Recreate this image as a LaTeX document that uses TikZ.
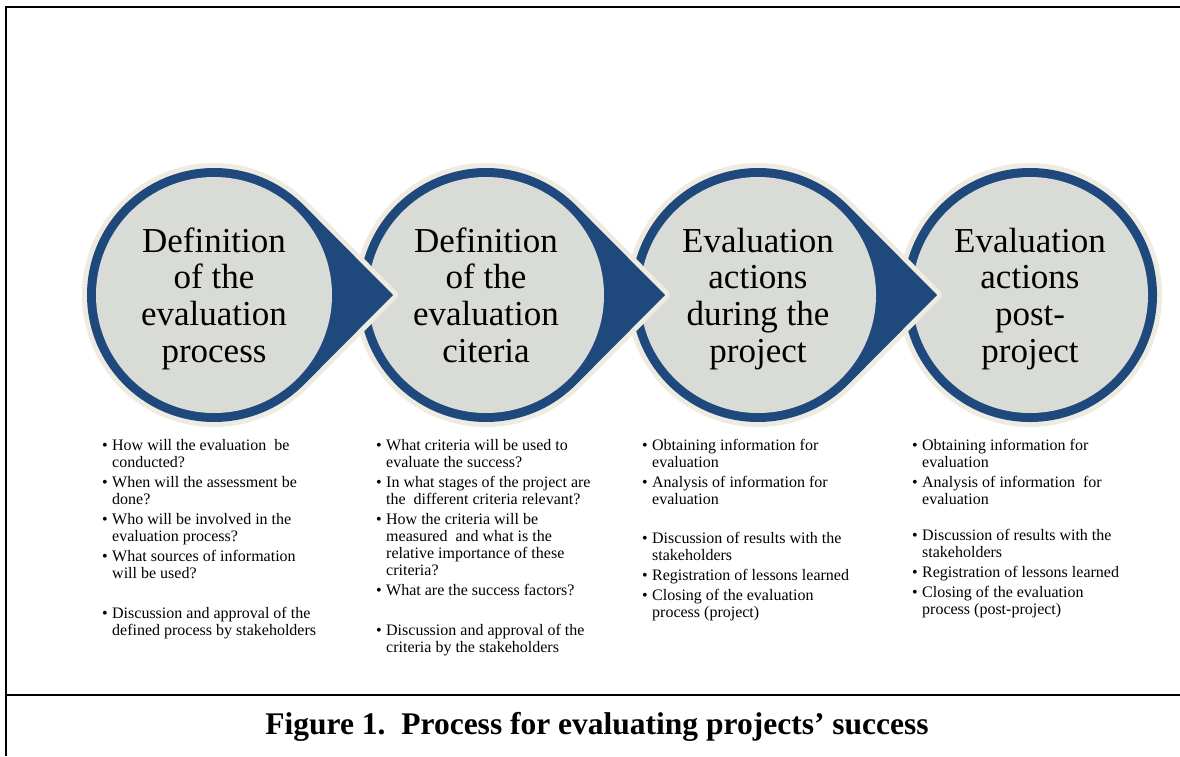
\documentclass[tikz,border=0pt]{standalone}
\usepackage{fontspec}
\setmainfont{Liberation Serif}
\usetikzlibrary{calc}
\definecolor{ringblue}{HTML}{1F497D}
\definecolor{discgray}{HTML}{D9DCD6}
\definecolor{creamedge}{HTML}{EEECE1}
\newcommand\itm{\par\hangindent=10pt\hangafter=1\noindent\makebox[10pt][l]{\textbullet}}
\newcommand\gap[1]{\par\vspace{#1}}
\newcommand\nl{\newline}
\newcommand\Rr{127}
\newcommand\Dd{179}
\newcommand\Ri{118}
\pgfmathsetmacro\tang{acos(127/179)}
\newcommand\teardrop[1]{%
  \path[fill=creamedge,draw=creamedge,line width=10pt,line join=round]
    ($(#1)+(\tang:\Rr)$) arc[start angle=\tang,end angle=360-\tang,radius=\Rr]
    -- ($(#1)+(\Dd,0)$) -- cycle;
  \fill[ringblue]
    ($(#1)+(\tang:\Rr)$) arc[start angle=\tang,end angle=360-\tang,radius=\Rr]
    -- ($(#1)+(\Dd,0)$) -- cycle;
  \fill[discgray] (#1) circle[radius=\Ri];}
\begin{document}
\begin{tikzpicture}[x=1pt,y=-1pt,
  frameline/.style={line width=2.5pt,black},
  disctext/.style={anchor=base,inner sep=0pt,font=\fontsize{35}{36.7}\selectfont},
  bulletcol/.style={anchor=base west,inner sep=0pt,font=\fontsize{16}{17}\selectfont},
  captiontext/.style={font=\bfseries\fontsize{31.5}{34}\selectfont,inner sep=0pt}]
\useasboundingbox (0,0) rectangle (1180,756);
\fill[white] (0,0) rectangle (1180,756);
% frame
\coordinate (ftl) at (6,7);
\coordinate (ftr) at (1180,7);
\coordinate (fbl) at (6,756);
\coordinate (fml) at (6,695);
\coordinate (fmr) at (1180,695);
\draw[frameline] (fbl) -- (ftl) -- (ftr);
\draw[frameline] (fml) -- (fmr);
% discs
\coordinate (c1) at (214,295);
\coordinate (c2) at (486,295);
\coordinate (c3) at (758,295);
\coordinate (c4) at (1030,295);
\fill[creamedge] (c4) circle[radius=132];
\fill[ringblue] (c4) circle[radius=\Rr];
\fill[discgray] (c4) circle[radius=\Ri];
\teardrop{c3}
\teardrop{c2}
\teardrop{c1}
% disc texts
\node[disctext] (t1) at (214,252) {\parbox[t]{240pt}{\centering Definition\\of the\\evaluation\\process}};
\node[disctext] (t2) at (486,252) {\parbox[t]{240pt}{\centering Definition\\of the\\evaluation\\citeria}};
\node[disctext] (t3) at (758,252) {\parbox[t]{240pt}{\centering Evaluation\\actions\\during the\\project}};
\node[disctext] (t4) at (1030,252) {\parbox[t]{240pt}{\centering Evaluation\\actions\\post-\\project}};
% bullet columns
\node[bulletcol] (b1) at (102,450) {\parbox[t]{265pt}{\raggedright
\itm How will the evaluation\ \ be\nl conducted?
\gap{3pt}\itm When will the assessment be\nl done?
\gap{3pt}\itm Who will be involved in the\nl evaluation process?
\gap{3pt}\itm What sources of information\nl will be used?
\gap{23pt}\itm Discussion and approval of the\nl defined process by stakeholders}};
\node[bulletcol] (b2) at (376,450) {\parbox[t]{265pt}{\raggedright
\itm What criteria will be used to\nl evaluate the success?
\gap{3pt}\itm In what stages of the project are\nl the\ \ different criteria relevant?
\gap{3pt}\itm How the criteria will be\nl measured\ \ and what is the\nl relative importance of these\nl criteria?
\gap{3pt}\itm What are the success factors?
\gap{23pt}\itm Discussion and approval of the\nl criteria by the stakeholders}};
\node[bulletcol] (b3) at (642,450) {\parbox[t]{265pt}{\raggedright
\itm Obtaining information for\nl evaluation
\gap{3pt}\itm Analysis of information for\nl evaluation
\gap{22pt}\itm Discussion of results with the\nl stakeholders
\gap{3pt}\itm Registration of lessons learned
\gap{3pt}\itm Closing of the evaluation\nl process (project)}};
\node[bulletcol] (b4) at (912,450) {\parbox[t]{265pt}{\raggedright
\itm Obtaining information for\nl evaluation
\gap{3pt}\itm Analysis of information\ \ for\nl evaluation
\gap{19pt}\itm Discussion of results with the\nl stakeholders
\gap{3pt}\itm Registration of lessons learned
\gap{3pt}\itm Closing of the evaluation\nl process (post-project)}};
% caption
\node[captiontext] (cap) at (597,727) {Figure 1.\ \ Process for evaluating projects’ success};
\end{tikzpicture}
\end{document}
